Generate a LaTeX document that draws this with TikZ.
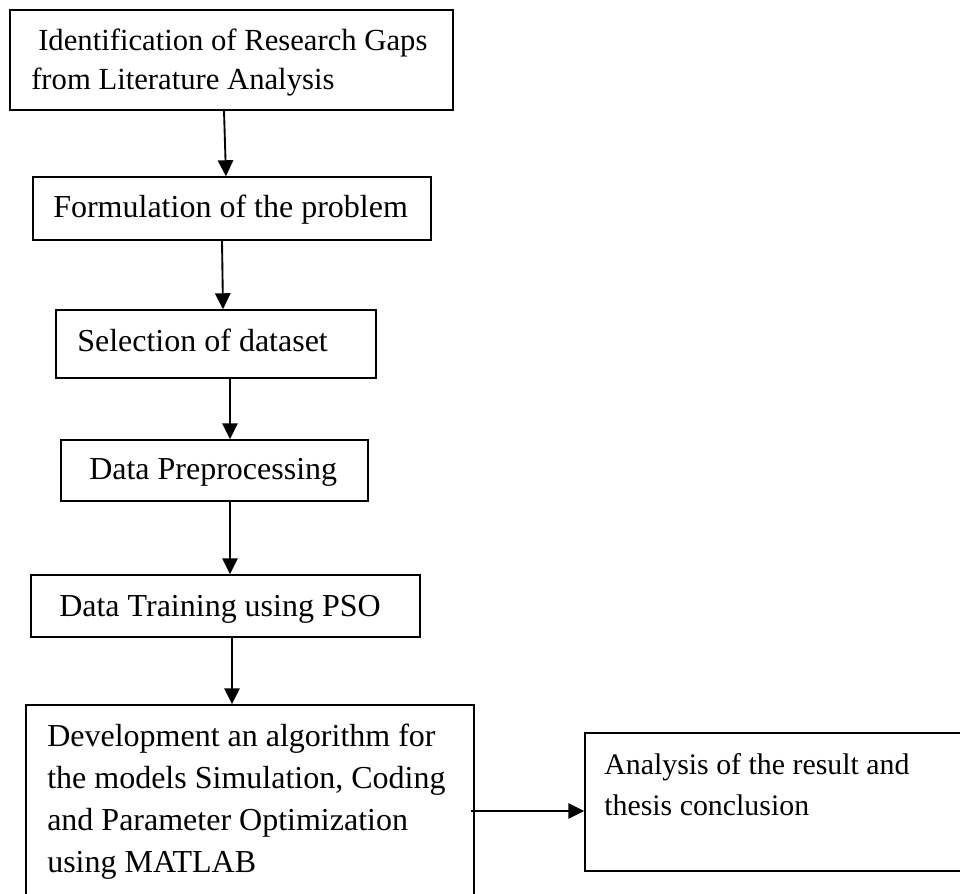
\documentclass[tikz,border=0pt]{standalone}
\usepackage{fontspec}
\setmainfont{Liberation Serif}
\usetikzlibrary{arrows.meta,fit,calc}
\begin{document}
\begin{tikzpicture}[x=0.75pt,y=-0.75pt,
  box/.style={draw, line width=1.1pt, inner sep=0pt},
  txt/.style={anchor=base west, inner sep=0pt},
  flow/.style={line width=1.4pt, -{Triangle[length=12pt,width=11.5pt]}}]
\useasboundingbox (0,0) rectangle (960,893);
\clip (0,0) rectangle (960,893);

% process boxes
\node[box, fit={(10,10) (453,110)}] (b1) {};
\node[box, fit={(33,177) (431,240)}] (b2) {};
\node[box, fit={(56,310) (376,378)}] (b3) {};
\node[box, fit={(61,440) (368,501)}] (b4) {};
\node[box, fit={(31,575) (420,637)}] (b5) {};
\node[box, fit={(26,705) (474,905)}] (b6) {};
\node[box, fit={(585,733) (975,871)}] (b7) {};

% box texts
\node[txt] (t1) at (31,50) {\fontsize{23}{29.25}\selectfont\parbox[t]{12cm}{\hspace*{5.25pt}Identification of Research Gaps\\from Literature Analysis}};
\node[txt] (t2) at (53,217) {\fontsize{24}{29}\selectfont Formulation of the problem};
\node[txt] (t3) at (77,351) {\fontsize{24}{29}\selectfont Selection of dataset};
\node[txt] (t4) at (89,479) {\fontsize{24}{29}\selectfont Data Preprocessing};
\node[txt] (t5) at (59,616) {\fontsize{24}{29}\selectfont Data Training using PSO};
\node[txt] (t6) at (47,746) {\fontsize{24}{31.5}\selectfont\parbox[t]{12cm}{Development an algorithm for\\the models Simulation, Coding\\and Parameter Optimization\\using MATLAB}};
\node[txt] (t7) at (604,774) {\fontsize{22.4}{30.75}\selectfont\parbox[t]{12cm}{Analysis of the result and\\thesis conclusion}};

% connectors
\draw[flow] ($(b1.south)+(-7.5,0)$) -- ($(b2.north)+(-6,0)$);
\draw[flow] ($(b2.south)+(-10,0)$) -- ($(b3.north)+(7,0)$);
\draw[flow] ($(b3.south)+(14,0)$) -- ($(b4.north)+(15.5,0)$);
\draw[flow] ($(b4.south)+(15.5,0)$) -- ($(b5.north)+(4.5,0)$);
\draw[flow] ($(b5.south)+(6.5,0)$) -- ($(b6.north)+(-18,0)$);
\draw[flow] ($(b6.east)+(-4,6)$) -- ($(b7.west)+(0,9)$);
\end{tikzpicture}
\end{document}
